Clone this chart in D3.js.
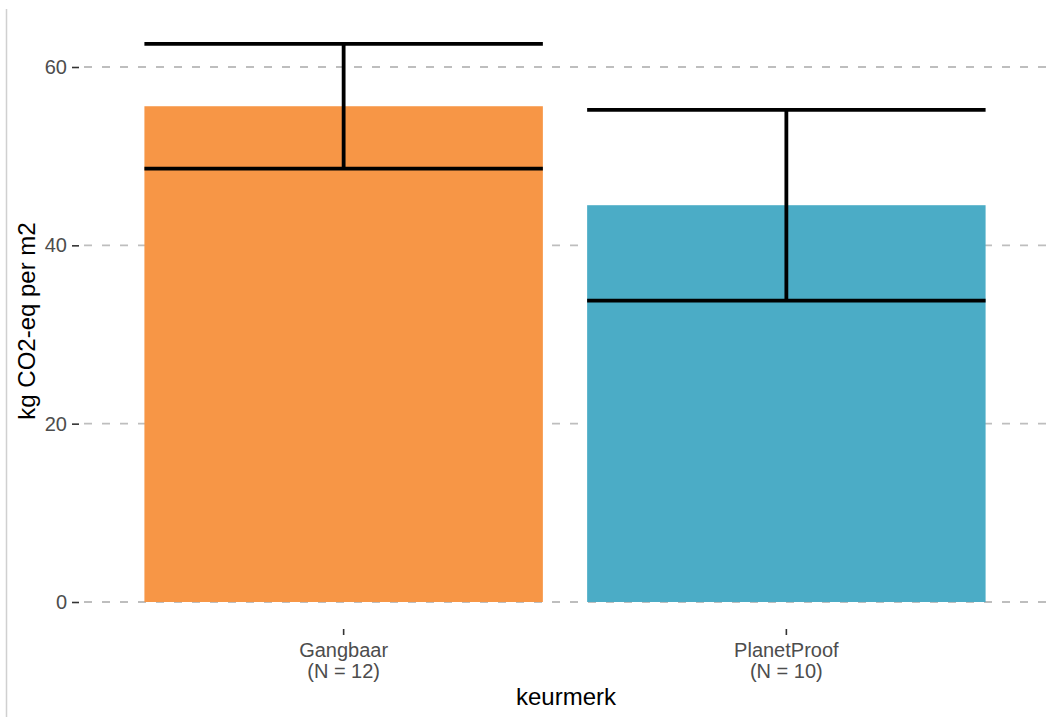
<!DOCTYPE html>
<html><head><meta charset="utf-8">
<script src="https://cdn.jsdelivr.net/npm/d3@7"></script>
<style>body{margin:0;background:#fff}svg{display:block}</style>
</head><body><svg id="c" width="1052" height="717"></svg>
<script>
const categories = ["Gangbaar", "PlanetProof"];
const counts = ["(N = 12)", "(N = 10)"];
const values = [55.6, 44.5];
const errLow = [48.6, 33.8];
const errHigh = [62.6, 55.2];
const colors = ["#F79646", "#4BACC6"];
const yTicks = [0, 20, 40, 60];

const FONT = "Liberation Sans, Arial, sans-serif";
const svg = d3.select("#c");
const x = d3.scaleBand().domain(categories).range([78, 1052]).paddingInner(0.1).paddingOuter(0.15);
const y = d3.scaleLinear().domain([0, 60]).range([602, 67]);

// left border line
svg.append("line").attr("x1", 6.5).attr("x2", 6.5).attr("y1", 9).attr("y2", 717)
  .attr("stroke", "#d0d0d0").attr("stroke-width", 1.5);

// gridlines
svg.append("g").selectAll("line").data(yTicks).join("line")
  .attr("x1", 80).attr("x2", 1052).attr("y1", d => y(d)).attr("y2", d => y(d))
  .attr("stroke", "#bebebe").attr("stroke-width", 1.8).attr("stroke-dasharray", "8,10").attr("stroke-dashoffset", -4);

// bars
const data = categories.map((c, i) => ({c, v: values[i], lo: errLow[i], hi: errHigh[i], col: colors[i]}));
svg.append("g").selectAll("rect").data(data).join("rect")
  .attr("x", d => x(d.c)).attr("width", x.bandwidth())
  .attr("y", d => y(d.v)).attr("height", d => y(0) - y(d.v))
  .attr("fill", d => d.col);

// error bars
const eb = svg.append("g").attr("stroke", "#000").attr("stroke-width", 3.8).attr("fill", "none");
data.forEach(d => {
  const cx = x(d.c) + x.bandwidth() / 2;
  eb.append("line").attr("x1", cx).attr("x2", cx).attr("y1", y(d.hi)).attr("y2", y(d.lo));
  eb.append("line").attr("x1", x(d.c)).attr("x2", x(d.c) + x.bandwidth()).attr("y1", y(d.hi)).attr("y2", y(d.hi));
  eb.append("line").attr("x1", x(d.c)).attr("x2", x(d.c) + x.bandwidth()).attr("y1", y(d.lo)).attr("y2", y(d.lo));
});

// y axis
const ya = svg.append("g").attr("transform", "translate(79,0)")
  .call(d3.axisLeft(y).tickValues(yTicks).tickSize(7).tickPadding(5));
ya.select(".domain").remove();
ya.selectAll(".tick line").attr("stroke", "#333").attr("stroke-width", 1.6);
ya.selectAll(".tick text").attr("fill", "#4d4d4d").style("font-family", FONT).style("font-size", "20px");

// x axis
const xa = svg.append("g").attr("transform", "translate(0,629)")
  .call(d3.axisBottom(x).tickSize(6).tickFormat(""));
xa.select(".domain").remove();
xa.selectAll(".tick line").attr("stroke", "#333").attr("stroke-width", 1.6);
const lbl = svg.append("g").style("font-family", FONT).style("font-size", "20px").attr("fill", "#4d4d4d").attr("text-anchor", "middle");
categories.forEach((c, i) => {
  const cx = x(c) + x.bandwidth() / 2;
  lbl.append("text").attr("x", cx).attr("y", 657).text(c);
  lbl.append("text").attr("x", cx).attr("y", 678).text(counts[i]);
});

// axis titles
svg.append("text").attr("x", 566).attr("y", 705).attr("text-anchor", "middle")
  .style("font-family", FONT).style("font-size", "24px").attr("fill", "#000").text("keurmerk");
svg.append("text").attr("transform", "translate(35,321) rotate(-90)").attr("text-anchor", "middle")
  .style("font-family", FONT).style("font-size", "24px").attr("fill", "#000").text("kg CO2-eq per m2");
</script></body></html>
